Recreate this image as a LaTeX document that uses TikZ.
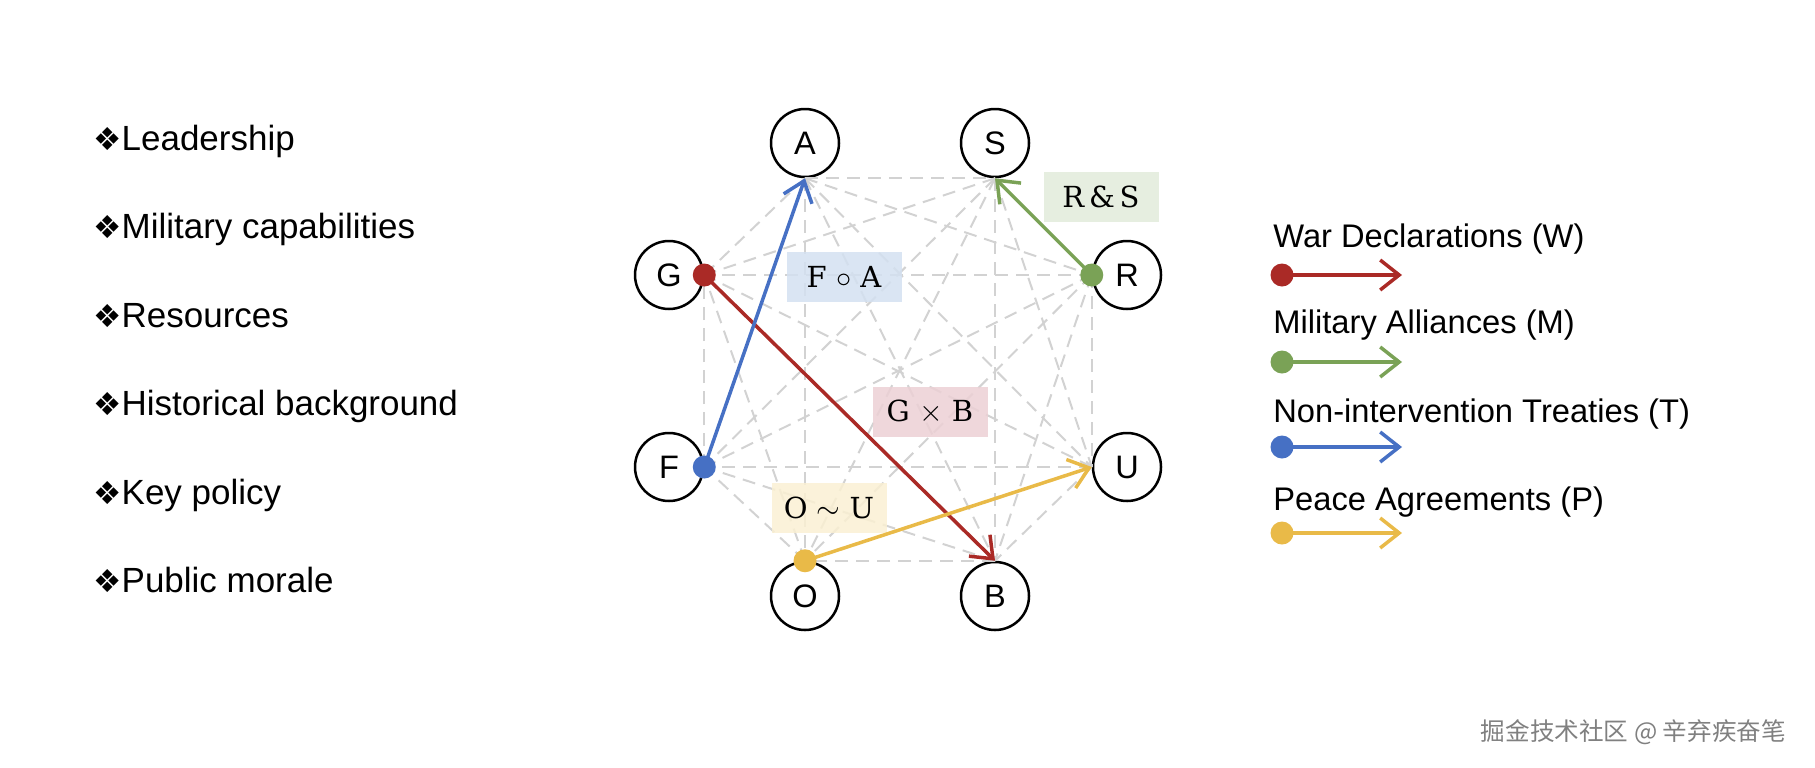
\documentclass[tikz,border=0pt]{standalone}
\usepackage[no-math]{fontspec}
\setmainfont{Liberation Sans}
\newfontfamily\symfont{DejaVu Sans}
\newfontfamily\boxfont{DejaVu Serif}
\newfontfamily\cjkfont{Noto Sans CJK SC}
\usetikzlibrary{arrows.meta,positioning}

\definecolor{warred}{RGB}{170,42,38}
\definecolor{allygreen}{RGB}{122,162,86}
\definecolor{treatyblue}{RGB}{70,112,196}
\definecolor{peaceyellow}{RGB}{233,186,72}
\definecolor{meshgray}{RGB}{210,210,210}
\definecolor{boxblue}{RGB}{212,225,241}
\definecolor{boxgreen}{RGB}{226,235,219}
\definecolor{boxpink}{RGB}{236,208,213}
\definecolor{boxyellow}{RGB}{250,240,211}

\newcommand{\bul}{{\symfont\fontsize{18}{18}\selectfont ❖}}

\begin{document}
\begin{tikzpicture}[x=0.2mm,y=-0.2mm,
  country/.style={draw,circle,fill=white,line width=0.5mm,minimum size=13.6mm,inner sep=0pt,font=\fontsize{18.5}{18.5}\selectfont},
  relbox/.style={minimum width=23mm,minimum height=10mm,inner sep=0pt,fill opacity=0.85,text opacity=1,font=\boxfont\fontsize{16.5}{16.5}\selectfont},
  mesh/.style={meshgray,line width=0.4mm,dash pattern=on 2.6mm off 1.6mm},
  rel/.style={line width=0.7mm,-{Straight Barb[length=3.8mm,width=6mm]}},
  factor/.style={anchor=base west,font=\fontsize{19.9}{24}\selectfont},
  legtext/.style={anchor=base west,font=\fontsize{18.6}{22}\selectfont}]
  \useasboundingbox (0,0) rectangle (1815,767);

  % factors
  \node[factor,inner sep=0pt] (f1) at (93,150) {\bul Leadership};
  \node[factor,inner sep=0pt] (f2) at (93,238.5) {\bul Military capabilities};
  \node[factor,inner sep=0pt] (f3) at (93,327) {\bul Resources};
  \node[factor,inner sep=0pt] (f4) at (93,415.5) {\bul Historical background};
  \node[factor,inner sep=0pt] (f5) at (93,504) {\bul Key policy};
  \node[factor,inner sep=0pt] (f6) at (93,592.5) {\bul Public morale};

  % countries
  \node[country] (A) at (805,143) {A};
  \node[country] (S) at (995,143) {S};
  \node[country] (G) at (669,275) {G};
  \node[country] (R) at (1127,275) {R};
  \node[country] (F) at (669,467) {F};
  \node[country] (U) at (1127,467) {U};
  \node[country] (O) at (805,596) {O};
  \node[country] (B) at (995,596) {B};

  \coordinate (p1) at (A.south);
  \coordinate (p2) at (S.south);
  \coordinate (p3) at (R.west);
  \coordinate (p4) at (U.west);
  \coordinate (p5) at (B.north);
  \coordinate (p6) at (O.north);
  \coordinate (p7) at (F.east);
  \coordinate (p8) at (G.east);

  % every pair
  \foreach \i in {1,...,7}{
    \pgfmathtruncatemacro\k{\i+1}
    \foreach \j in {\k,...,8}
      \draw[mesh] (p\i) -- (p\j);
  }

  \node[relbox,fill=boxblue] (fa) at (844,277) {F $\circ$ A};
  \node[relbox,fill=boxgreen] (rs) at (1101,197) {R\,\&\,S};
  \node[relbox,fill=boxpink] (gb) at (930,412) {G $\times$ B};
  \node[relbox,fill=boxyellow] (ou) at (829,508) {O $\sim$ U};

  \draw[rel,warred] (p8) -- (p5);
  \draw[rel,treatyblue] (p7) -- (p1);
  \draw[rel,allygreen] (p3) -- (p2);
  \draw[rel,peaceyellow] (p6) -- (p4);
  \fill[warred] (p8) circle (2.3mm);
  \fill[treatyblue] (p7) circle (2.3mm);
  \fill[allygreen] (p3) circle (2.3mm);
  \fill[peaceyellow] (p6) circle (2.3mm);

  % legend
  \node[legtext,inner sep=0pt] (lw) at (1273,247) {War Declarations (W)};
  \node[legtext,inner sep=0pt] (lm) at (1273,333) {Military Alliances (M)};
  \node[legtext,inner sep=0pt] (lt) at (1273,422) {Non-intervention Treaties (T)};
  \node[legtext,inner sep=0pt] (lp) at (1273,510) {Peace Agreements (P)};
  \coordinate (w0) at (1282,275); \coordinate (w1) at (1402,275);
  \coordinate (m0) at (1282,362); \coordinate (m1) at (1402,362);
  \coordinate (t0) at (1282,447); \coordinate (t1) at (1402,447);
  \coordinate (a0) at (1282,533); \coordinate (a1) at (1402,533);
  \draw[rel,warred] (w0) -- (w1);
  \draw[rel,allygreen] (m0) -- (m1);
  \draw[rel,treatyblue] (t0) -- (t1);
  \draw[rel,peaceyellow] (a0) -- (a1);
  \fill[warred] (w0) circle (2.3mm);
  \fill[allygreen] (m0) circle (2.3mm);
  \fill[treatyblue] (t0) circle (2.3mm);
  \fill[peaceyellow] (a0) circle (2.3mm);

  \node[anchor=east,text=black!50,font=\cjkfont\fontsize{14}{14}\selectfont] (wm) at (1792,732) {掘金技术社区 @ 辛弃疾奋笔};
\end{tikzpicture}
\end{document}
